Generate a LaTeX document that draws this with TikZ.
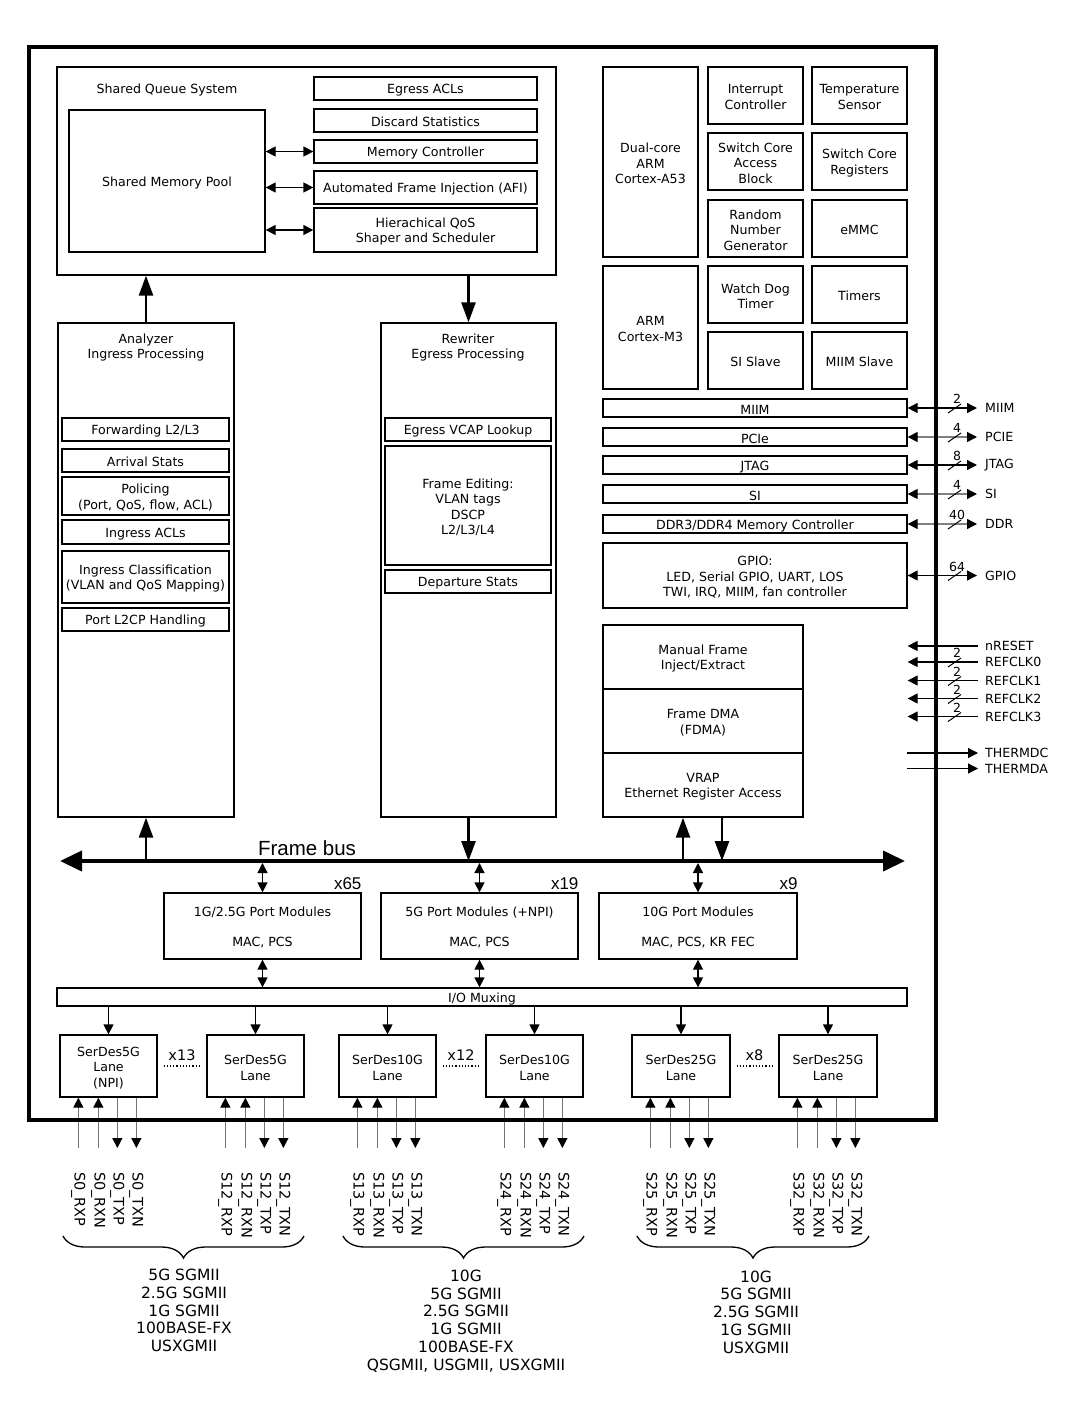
\documentclass[tikz,border=0pt]{standalone}
\usepackage{fontspec}
\setmainfont{DejaVu Sans}
\newfontfamily\arialfont{Liberation Sans}
\usetikzlibrary{arrows.meta,calc,positioning,decorations.pathreplacing}

\newcommand\mainsz{\fontsize{12.6}{15.5}\selectfont}
\newcommand\modesz{\fontsize{15.5}{17.7}\selectfont}
\newcommand\pinsz{\fontsize{14.5}{16}\selectfont}
\newcommand\numsz{\fontsize{12.5}{13}\selectfont}

\tikzset{
	unit/.style={draw, line width=1.3pt, inner sep=0pt},
	txt/.style={inner sep=0pt, align=center, font=\mainsz, yshift=-1.7pt},
	arr/.style={line width=1.3pt, -{Triangle[length=10pt,width=10pt]}},
	dbl/.style={line width=1.3pt, {Triangle[length=10pt,width=10pt]}-{Triangle[length=10pt,width=10pt]}},
	sigdbl/.style={line width=1.3pt, {Triangle[length=10pt,width=10pt,color=black]}-{Triangle[length=10pt,width=10pt,color=black]}},
	bigarr/.style={line width=2.6pt, -{Triangle[length=20pt,width=14pt]}},
	bus/.style={line width=4pt, {Triangle[length=22pt,width=20pt]}-{Triangle[length=22pt,width=20pt]}},
	lane/.style={line width=1.3pt, draw=black!55},
	pinlbl/.style={inner sep=0pt, font=\pinsz, rotate=-90, anchor=west},
	siglbl/.style={inner sep=0pt, font=\mainsz, anchor=west},
	numlbl/.style={inner sep=0pt, font=\numsz},
	modes/.style={inner sep=0pt, align=center, font=\modesz},
	cnt/.style={inner sep=0pt, font=\pinsz, anchor=base},
	pcnt/.style={inner sep=0pt, font=\arialfont\fontsize{17}{18}\selectfont, anchor=base east},
	brace/.style={decorate, decoration={brace, amplitude=22pt, mirror}, line width=1.3pt},
}

% box from corner to corner, text slightly low as in the source
\def\blk(#1)(#2,#3)(#4,#5)#6{%
	\node[unit, minimum width={#4-#2}, minimum height={#5-#3}] (#1) at ({(#2+#4)/2},{(#3+#5)/2}) {};
	\node[txt] (#1-t) at (#1.center) {#6};}

% four serdes pins under a lane
\newcommand\lanepins[2]{%
	\foreach \dx/\sig [count=\k] in {19/RXP,39/RXN,58/TXP,77/TXN}{
		\coordinate (#1-\sig) at ([xshift=\dx pt]#1.south west);
		\coordinate (#1-\sig-e) at (#1-\sig |- pinend);
		\ifnum\k<3
			\draw[lane, -{Triangle[length=10pt,width=10pt,color=black]}] (#1-\sig-e) -- (#1-\sig);
		\else
			\draw[lane, -{Triangle[length=10pt,width=10pt,color=black]}] (#1-\sig) -- (#1-\sig-e);
		\fi
		\node[pinlbl] (#1-\sig-l) at (#1-\sig |- pintext) {S#2\_\sig};
	}%
}

\begin{document}
\begin{tikzpicture}[x=1pt, y=-1pt]
	%%%%% START %%%%%
	\useasboundingbox (0,0) rectangle (1082,1416);

	% shared queue system
	\blk(sqs)(57,67)(556,275){}
	\node[txt] (sqs-l) at (167,88) {Shared Queue System};
	\blk(smp)(69,110)(265,252){Shared Memory Pool}
	\blk(eacl)(314,77)(537,100){Egress ACLs}
	\blk(dstat)(314,109)(537,132){Discard Statistics}
	\blk(memc)(314,140)(537,163){Memory Controller}
	\blk(afi)(314,171)(537,204){Automated Frame Injection (AFI)}
	\blk(hqos)(314,208)(537,252){Hierachical QoS\\Shaper and Scheduler}
	\draw[dbl] (smp.east |- memc.west) -- (memc.west);
	\draw[dbl] (smp.east |- afi.west) -- (afi.west);
	\draw[dbl] (smp.east |- hqos.west) -- (hqos.west);

	% analyzer
	\blk(ana)(58,323)(234,817){}
	\node[txt] (ana-l) at (146,346) {Analyzer\\Ingress Processing};
	\blk(fwd)(62,418)(229,441){Forwarding L2/L3}
	\blk(arrst)(62,449)(229,472){Arrival Stats}
	\blk(pol)(62,477)(229,515){Policing\\(Port, QoS, flow, ACL)}
	\blk(iacl)(62,520)(229,544){Ingress ACLs}
	\blk(icls)(62,551)(229,603){Ingress Classification\\(VLAN and QoS Mapping)}
	\blk(l2cp)(62,608)(229,631){Port L2CP Handling}

	% rewriter
	\blk(rew)(381,323)(556,817){}
	\node[txt] (rew-l) at (468,346) {Rewriter\\Egress Processing};
	\blk(evcap)(385,418)(551,441){Egress VCAP Lookup}
	\blk(fedit)(385,446)(551,565){Frame Editing:\\VLAN tags\\DSCP\\L2/L3/L4}
	\blk(dep)(385,570)(551,593){Departure Stats}

	\draw[bigarr] (ana.north) -- (ana.north |- sqs.south);
	\draw[bigarr] (sqs.south -| rew.north) -- (rew.north);

	% cpu system
	\blk(a53)(603,67)(698,257){Dual-core\\ARM\\Cortex-A53}
	\blk(m3)(603,266)(698,389){ARM\\Cortex-M3}
	\blk(intc)(708,67)(803,124){Interrupt\\Controller}
	\blk(temp)(812,67)(907,124){Temperature\\Sensor}
	\blk(scab)(708,133)(803,190){Switch Core\\Access\\Block}
	\blk(scr)(812,133)(907,190){Switch Core\\Registers}
	\blk(rng)(708,200)(803,257){Random\\Number\\Generator}
	\blk(emmc)(812,200)(907,257){eMMC}
	\blk(wdt)(708,266)(803,323){Watch Dog\\Timer}
	\blk(tmr)(812,266)(907,323){Timers}
	\blk(sis)(708,332)(803,389){SI Slave}
	\blk(miims)(812,332)(907,389){MIIM Slave}

	\blk(miim)(603,399)(907,417){MIIM}
	\blk(pcie)(603,428)(907,446){PCIe}
	\blk(jtag)(603,456)(907,474){JTAG}
	\blk(si)(603,485)(907,503){SI}
	\blk(ddr)(603,515)(907,533){DDR3/DDR4 Memory Controller}
	\blk(gpio)(603,543)(907,608){GPIO:\\LED, Serial GPIO, UART, LOS\\TWI, IRQ, MIIM, fan controller}

	\blk(mfi)(603,625)(803,689){Manual Frame\\Inject/Extract}
	\blk(fdma)(603,689)(803,753){Frame DMA\\(FDMA)}
	\blk(vrap)(603,753)(803,817){VRAP\\Ethernet Register Access}

	% external signals
	\coordinate (sigend) at (977,0);
	\coordinate (slashx) at (955,0);
	\foreach \nm/\lbl/\n/\col in {miim/MIIM/2/black,pcie/PCIE/4/gray,jtag/JTAG/8/black,si/SI/4/gray,ddr/DDR/40/gray,gpio/GPIO/64/black}{
		\coordinate (\nm-o) at (\nm.east -| sigend);
		\coordinate (\nm-s) at (\nm.east -| slashx);
		\draw[sigdbl, draw=\col] (\nm.east) -- (\nm-o);
		\draw[line width=1pt] ([shift={(-7,5)}]\nm-s) -- ([shift={(6,-4)}]\nm-s);
		\node[numlbl] (\nm-n) at ([shift={(2,-9)}]\nm-s) {\n};
		\node[siglbl, right=8pt of \nm-o] (\nm-l) {\lbl};
	}
	\foreach \nm/\lbl/\yy in {nreset/nRESET/646,rc0/REFCLK0/662,rc1/REFCLK1/680.5,rc2/REFCLK2/698.5,rc3/REFCLK3/716.5}{
		\coordinate (\nm-i) at (978,\yy);
		\coordinate (\nm-t) at (\nm-i -| miim.east);
		\draw[arr] (\nm-i) -- (\nm-t);
		\node[siglbl, right=7pt of \nm-i] (\nm-l) {\lbl};
	}
	\foreach \nm in {rc0,rc1,rc2,rc3}{
		\coordinate (\nm-s) at (\nm-i -| slashx);
		\draw[line width=1pt] ([shift={(-7,5)}]\nm-s) -- ([shift={(6,-4)}]\nm-s);
		\node[numlbl] (\nm-n) at ([shift={(2,-9)}]\nm-s) {2};
	}
	\foreach \nm/\lbl/\yy in {thdc/THERMDC/753,thda/THERMDA/768.5}{
		\coordinate (\nm-t) at (907,\yy);
		\coordinate (\nm-i) at (978,\yy);
		\draw[arr] (\nm-t) -- (\nm-i);
		\node[siglbl, right=7pt of \nm-i] (\nm-l) {\lbl};
	}

	% frame bus
	\coordinate (busL) at (60,861);
	\coordinate (busR) at (905,861);
	\draw[bus] (busL) -- (busR);
	\node[inner sep=0pt, font=\arialfont\fontsize{20.5}{22}\selectfont] (fb-l) at (307,848) {Frame bus};
	\draw[bigarr] (ana.south |- busL) -- (ana.south);
	\draw[bigarr] (rew.south) -- (rew.south |- busL);
	\draw[bigarr] ([xshift=-20pt]vrap.south |- busL) -- ([xshift=-20pt]vrap.south);
	\draw[bigarr] ([xshift=19pt]vrap.south) -- ([xshift=19pt]vrap.south |- busL);

	% port modules
	\blk(pm1)(164,893)(361,959){1G/2.5G Port Modules\\[14.5pt]MAC, PCS}
	\blk(pm2)(381,893)(578,959){5G Port Modules (+NPI)\\[14.5pt]MAC, PCS}
	\blk(pm3)(599,893)(797,959){10G Port Modules\\[14.5pt]MAC, PCS, KR FEC}
	\node[pcnt] (pm1-c) at ([yshift=3pt]pm1.north east) {x65};
	\node[pcnt] (pm2-c) at ([yshift=3pt]pm2.north east) {x19};
	\node[pcnt] (pm3-c) at ([yshift=3pt]pm3.north east) {x9};

	\blk(io)(57,988)(907,1006){I/O Muxing}
	\foreach \p in {pm1,pm2,pm3}{
		\draw[dbl] ([yshift=-2pt]\p.north |- busL) -- (\p.north);
		\draw[dbl] (\p.south) -- (\p.south |- io.north);
	}

	% serdes lanes
	\blk(sd1)(60,1035)(157,1097){SerDes5G\\Lane\\(NPI)}
	\blk(sd2)(207,1035)(304,1097){SerDes5G\\Lane}
	\blk(sd3)(339,1035)(436,1097){SerDes10G\\Lane}
	\blk(sd4)(486,1035)(583,1097){SerDes10G\\Lane}
	\blk(sd5)(632,1035)(730,1097){SerDes25G\\Lane}
	\blk(sd6)(779,1035)(877,1097){SerDes25G\\Lane}
	\foreach \s in {sd1,sd2,sd3,sd4,sd5,sd6}{
		\draw[arr] (\s.north |- io.south) -- (\s.north);
	}
	\foreach \a/\b/\n in {sd1/sd2/13,sd3/sd4/12,sd5/sd6/8}{
		\draw[dotted, line width=1.2pt] ([xshift=6pt]\a.east) -- ([xshift=-6pt]\b.west);
		\node[cnt] (\a-x) at ($(\a.east)!.5!(\b.west)+(0,-6)$) {x\n};
	}

	\coordinate (pinend) at (0,1148);
	\coordinate (pintext) at (0,1172);
	\lanepins{sd1}{0}
	\lanepins{sd2}{12}
	\lanepins{sd3}{13}
	\lanepins{sd4}{24}
	\lanepins{sd5}{25}
	\lanepins{sd6}{32}

	% chip outline
	\draw[line width=4.5pt] (29,47) rectangle (936,1120);

	% interface modes
	\draw[brace] (63,1236) -- (304,1236);
	\draw[brace] (343,1236) -- (584,1236);
	\draw[brace] (637,1236) -- (869,1236);
	\node[modes] (mode5g) at (184,1310.5) {5G SGMII\\2.5G SGMII\\1G SGMII\\100BASE-FX\\USXGMII};
	\node[modes] (mode10g) at (466,1321) {10G\\5G SGMII\\2.5G SGMII\\1G SGMII\\100BASE-FX\\QSGMII, USGMII, USXGMII};
	\node[modes] (mode25g) at (756,1312) {10G\\5G SGMII\\2.5G SGMII\\1G SGMII\\USXGMII};

	%%%%% END %%%%%
\end{tikzpicture}
\end{document}
